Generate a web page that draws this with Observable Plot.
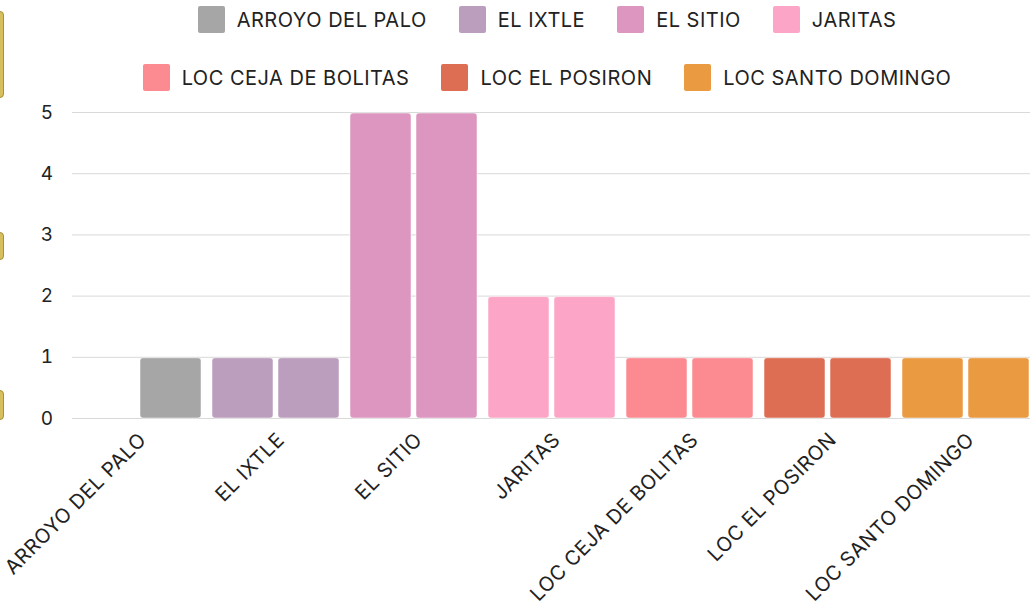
<!DOCTYPE html>
<html>
<head>
<meta charset="utf-8">
<script src="https://cdn.jsdelivr.net/npm/d3@7"></script>
<script src="https://cdn.jsdelivr.net/npm/@observablehq/plot@0.6"></script>
<style>
  html, body { margin: 0; padding: 0; background: #fff; }
  #wrap { position: relative; width: 1036px; height: 611px; overflow: hidden; font-family: Inter, Roboto, sans-serif; }
  #legend { position: absolute; left: 117px; top: 6px; width: 860px; display: flex; flex-wrap: wrap; justify-content: center; column-gap: 32px; row-gap: 31px; }
  .item { display: flex; align-items: center; height: 27px; font-size: 20px; letter-spacing: 0.5px; color: #222; }
  .sw { width: 27px; height: 27px; border-radius: 2px; margin-right: 12px; }
  .deco { position: absolute; left: -6px; width: 8px; border-radius: 4px; background: #d6bf5c; border: 1px solid #a8923a; }
  svg text { letter-spacing: 0.5px; }
</style>
</head>
<body>
<div id="wrap">
  <div class="deco" style="top:11px;height:85px"></div>
  <div class="deco" style="top:232px;height:26px"></div>
  <div class="deco" style="top:390px;height:28px"></div>
  <div id="legend"></div>
</div>
<script>
const categories = ["ARROYO DEL PALO", "EL IXTLE", "EL SITIO", "JARITAS", "LOC CEJA DE BOLITAS", "LOC EL POSIRON", "LOC SANTO DOMINGO"];
const seriesA = [0, 1, 5, 2, 1, 1, 1];
const seriesB = [1, 1, 5, 2, 1, 1, 1];
const colors = ["#a6a6a6", "#bb9dbd", "#dd96c0", "#fda5c6", "#fc8b91", "#de6e53", "#ea9a40"];
const yTicks = [0, 1, 2, 3, 4, 5];

const rowsA = categories.map((c, i) => ({cat: c, value: seriesA[i]})).filter(d => d.value > 0);
const rowsB = categories.map((c, i) => ({cat: c, value: seriesB[i]})).filter(d => d.value > 0);

const hasAxisMarks = typeof Plot.axisX === "function";

const plot = Plot.plot({
  width: 1036,
  height: 611,
  marginTop: 112,
  marginBottom: 193,
  marginLeft: 72,
  marginRight: 6,
  style: {fontFamily: "Inter, Roboto, sans-serif", fontSize: "19px", color: "#222", background: "transparent"},
  x: hasAxisMarks
    ? {domain: categories, paddingInner: 0.08, paddingOuter: 0, axis: null, label: null}
    : {domain: categories, paddingInner: 0.08, paddingOuter: 0, tickSize: 0, tickRotate: -45, tickPadding: 18, label: null},
  y: {domain: [0, 5], ticks: yTicks, tickSize: 0, tickPadding: 19, label: null, tickFormat: d3.format("d")},
  color: {domain: categories, range: colors},
  marks: [
    Plot.ruleY(yTicks, {stroke: "#d9d9d9", strokeWidth: 1}),
    Plot.barY(rowsA, {x: "cat", y: "value", fill: "cat", insetRight: 66, insetTop: 1, rx: 3, stroke: "#fff", strokeOpacity: 0.5}),
    Plot.barY(rowsB, {x: "cat", y: "value", fill: "cat", insetLeft: 66, insetTop: 1, rx: 3, stroke: "#fff", strokeOpacity: 0.5}),
    hasAxisMarks
      ? Plot.axisX({tickSize: 0, tickRotate: -45, tickPadding: 18, dx: 5, fontSize: 20, label: null})
      : null
  ]
});
document.getElementById("wrap").prepend(plot);
plot.style.position = "absolute";
plot.style.left = "0";
plot.style.top = "0";

const legend = document.getElementById("legend");
categories.forEach((c, i) => {
  const it = document.createElement("div");
  it.className = "item";
  const sw = document.createElement("div");
  sw.className = "sw";
  sw.style.background = colors[i];
  const t = document.createElement("span");
  t.textContent = c;
  it.appendChild(sw);
  it.appendChild(t);
  legend.appendChild(it);
});
</script>
</body>
</html>
